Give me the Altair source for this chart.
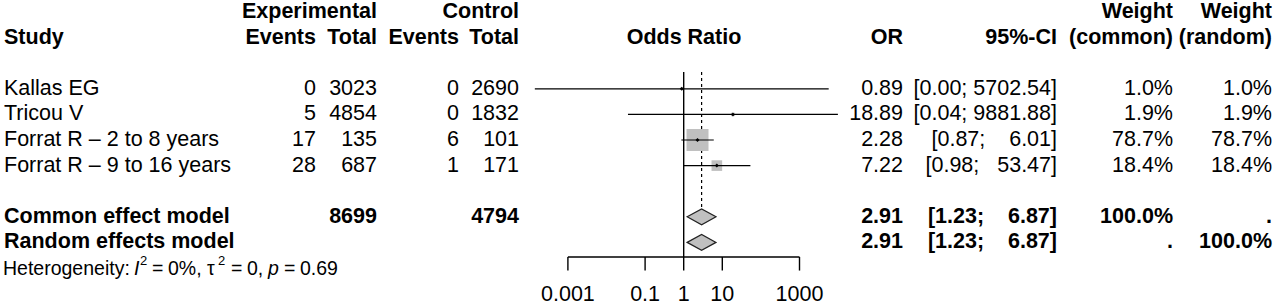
import altair as alt
import pandas as pd

# ---------------- data ----------------
studies = ["Kallas EG", "Tricou V", "Forrat R – 2 to 8 years", "Forrat R – 9 to 16 years"]
e_events = [0, 5, 17, 28]
e_total = [3023, 4854, 135, 687]
c_events = [0, 0, 6, 1]
c_total = [2690, 1832, 101, 171]
odds = [0.89, 18.89, 2.28, 7.22]
lower = [0.000139, 0.036, 0.87, 0.98]
upper = [5702.54, 9881.88, 6.01, 53.47]
lower_lbl = ["0.00", "0.04", "0.87", "0.98"]
upper_lbl = ["5702.54", "9881.88", "6.01", "53.47"]
w_common = [1.0, 1.9, 78.7, 18.4]
w_random = [1.0, 1.9, 78.7, 18.4]

models = ["Common effect model", "Random effects model"]
pooled_or = [2.91, 2.91]
pooled_lo = [1.23, 1.23]
pooled_hi = [6.87, 6.87]
pooled_lo_lbl = ["1.23", "1.23"]
pooled_hi_lbl = ["6.87", "6.87"]
pooled_wc = ["100.0%", "."]
pooled_wr = [".", "100.0%"]
tot_e = 8699
tot_c = 4794

tick_values = [0.001, 0.1, 1, 10, 1000]
tick_labels = ["0.001", "0.1", "1", "10", "1000"]

# ---------------- layout ----------------
W, H = 1280, 306
FONT = "Liberation Sans"
FS = 21.5
NB = "\u00a0"
study_rows = [3, 4, 5, 6]
model_rows = [8, 9]
HET_ROW = 10.02

# y: pixel = 12 + 25.6*row
yscale = alt.Scale(domain=[-12 / 25.6, (H - 12) / 25.6], reverse=True, nice=False, zero=False)
# x: pixel = 683.7 + 38.6*log10(v)
x0, dec = 683.7, 38.6
xscale = alt.Scale(type="log", domain=[10 ** (-x0 / dec), 10 ** ((W - x0) / dec)], nice=False, range=[0, W])


def fmt_ci(lo, hi):
    return "[" + lo + ";" + NB * (1 + 7 - len(hi)) + hi + "]"


cells = []


def add(col, row, text, bold=False):
    cells.append({"col": col, "row": row, "text": text, "bold": bold})


# headers
add("e_tot", 0, "Experimental", True)
add("c_tot", 0, "Control", True)
add("wc", 0, "Weight", True)
add("wr", 0, "Weight", True)
add("study", 1, "Study", True)
add("e_ev", 1, "Events", True)
add("e_tot", 1, "Total", True)
add("c_ev", 1, "Events", True)
add("c_tot", 1, "Total", True)
add("orh", 1, "Odds Ratio", True)
add("or", 1, "OR", True)
add("ci", 1, "95%-CI", True)
add("wc", 1, "(common)", True)
add("wr", 1, "(random)", True)

for i, r in enumerate(study_rows):
    add("study", r, studies[i])
    add("e_ev", r, str(e_events[i]))
    add("e_tot", r, str(e_total[i]))
    add("c_ev", r, str(c_events[i]))
    add("c_tot", r, str(c_total[i]))
    add("or", r, f"{odds[i]:.2f}")
    add("ci", r, fmt_ci(lower_lbl[i], upper_lbl[i]))
    add("wc", r, f"{w_common[i]:.1f}%")
    add("wr", r, f"{w_random[i]:.1f}%")

for i, r in enumerate(model_rows):
    add("study", r, models[i], True)
    if i == 0:
        add("e_tot", r, str(tot_e), True)
        add("c_tot", r, str(tot_c), True)
    add("or", r, f"{pooled_or[i]:.2f}", True)
    add("ci", r, fmt_ci(pooled_lo_lbl[i], pooled_hi_lbl[i]), True)
    add("wc", r, pooled_wc[i], True)
    add("wr", r, pooled_wr[i], True)

cells = pd.DataFrame(cells)

col_specs = {
    "study": (4, "left"),
    "e_ev": (316, "right"),
    "e_tot": (377, "right"),
    "c_ev": (459, "right"),
    "c_tot": (519, "right"),
    "orh": (684, "center"),
    "or": (903, "right"),
    "ci": (1057, "right"),
    "wc": (1173, "right"),
    "wr": (1272, "right"),
}

layers = []

# ---------------- forest graphics ----------------
ref = pd.DataFrame({"v": [1.0], "y0": [2.34], "y1": [9.57]})
layers.append(
    alt.Chart(ref).mark_rule(color="black", strokeWidth=1.4).encode(
        x=alt.X("v:Q", scale=xscale, axis=None),
        y=alt.Y("y0:Q", scale=yscale, axis=None),
        y2="y1:Q",
    )
)
dash = pd.DataFrame({"v": [pooled_or[0]], "y0": [2.34], "y1": [7.72]})
layers.append(
    alt.Chart(dash).mark_rule(color="black", strokeWidth=1.2, strokeDash=[3, 3]).encode(
        x=alt.X("v:Q", scale=xscale, axis=None),
        y=alt.Y("y0:Q", scale=yscale, axis=None),
        y2="y1:Q",
    )
)

sd = pd.DataFrame({"row": study_rows, "or": odds, "lo": lower, "hi": upper, "w": w_common})
layers.append(
    alt.Chart(sd).mark_square(color="#c0c0c0", opacity=1).encode(
        x=alt.X("or:Q", scale=xscale, axis=None),
        y=alt.Y("row:Q", scale=yscale, axis=None),
        size=alt.Size("w:Q", scale=alt.Scale(domain=[0, 78.7], range=[0, 484]), legend=None),
    )
)
layers.append(
    alt.Chart(sd).mark_rule(color="black", strokeWidth=1.2).encode(
        x=alt.X("lo:Q", scale=xscale, axis=None),
        x2="hi:Q",
        y=alt.Y("row:Q", scale=yscale, axis=None),
    )
)
layers.append(
    alt.Chart(sd).mark_point(shape="diamond", filled=True, color="black", size=16, opacity=1).encode(
        x=alt.X("or:Q", scale=xscale, axis=None),
        y=alt.Y("row:Q", scale=yscale, axis=None),
    )
)

# diamonds
dm = []
HALF = 0.31
for i, r in enumerate(model_rows):
    dm.append({"m": models[i], "x": pooled_lo[i], "yt": r, "yb": r})
    dm.append({"m": models[i], "x": pooled_or[i], "yt": r - HALF, "yb": r + HALF})
    dm.append({"m": models[i], "x": pooled_hi[i], "yt": r, "yb": r})
dm = pd.DataFrame(dm)
layers.append(
    alt.Chart(dm).mark_area(color="#c0c0c0", stroke="#222222", strokeWidth=1.2, opacity=1, orient="vertical").encode(
        x=alt.X("x:Q", scale=xscale, axis=None),
        y=alt.Y("yt:Q", scale=yscale, axis=None),
        y2="yb:Q",
        detail="m:N",
    )
)

# axis
axl = pd.DataFrame({"a": [tick_values[0]], "b": [tick_values[-1]], "y": [9.57]})
layers.append(
    alt.Chart(axl).mark_rule(color="black", strokeWidth=1.4).encode(
        x=alt.X("a:Q", scale=xscale, axis=None),
        x2="b:Q",
        y=alt.Y("y:Q", scale=yscale, axis=None),
    )
)
tk = pd.DataFrame({"v": tick_values, "lbl": tick_labels, "y0": 9.57, "y1": 10.1, "yl": 11.05})
layers.append(
    alt.Chart(tk).mark_rule(color="black", strokeWidth=1.4).encode(
        x=alt.X("v:Q", scale=xscale, axis=None),
        y=alt.Y("y0:Q", scale=yscale, axis=None),
        y2="y1:Q",
    )
)
layers.append(
    alt.Chart(tk).mark_text(font=FONT, fontSize=FS, baseline="middle", align="center", color="black").encode(
        x=alt.X("v:Q", scale=xscale, axis=None),
        y=alt.Y("yl:Q", scale=yscale, axis=None),
        text="lbl:N",
    )
)

# ---------------- text columns ----------------
for col, (xp, al) in col_specs.items():
    for bold in (False, True):
        sub = cells[(cells["col"] == col) & (cells["bold"] == bold)]
        if len(sub) == 0:
            continue
        layers.append(
            alt.Chart(sub).mark_text(
                font=FONT, fontSize=FS, fontWeight="bold" if bold else "normal",
                align=al, baseline="middle", color="black",
            ).encode(
                x=alt.value(xp),
                y=alt.Y("row:Q", scale=yscale, axis=None),
                text="text:N",
            )
        )

# heterogeneity line (segments: text, x, style, row offset, size)
HF, SF, SUP = 19.5, 13, -0.3
het_parts = [
    ("Heterogeneity:", 3, "normal", 0.0, HF),
    ("I", 134, "italic", 0.0, HF),
    ("2", 140, "normal", SUP, SF),
    ("=", 152, "normal", 0.0, HF),
    ("0%,", 168, "normal", 0.0, HF),
    ("τ", 207, "normal", 0.0, HF),
    ("2", 218, "normal", SUP, SF),
    ("=", 231, "normal", 0.0, HF),
    ("0,", 247, "normal", 0.0, HF),
    ("p", 268, "italic", 0.0, HF),
    ("=", 284, "normal", 0.0, HF),
    ("0.69", 300, "normal", 0.0, HF),
]
for txt, xp, style, dy, fs in het_parts:
    hd = pd.DataFrame({"row": [HET_ROW + dy], "text": [txt]})
    layers.append(
        alt.Chart(hd).mark_text(
            font=FONT, fontSize=fs, fontStyle=style, align="left", baseline="middle", color="black"
        ).encode(
            x=alt.value(xp),
            y=alt.Y("row:Q", scale=yscale, axis=None),
            text="text:N",
        )
    )

chart = (
    alt.layer(*layers)
    .properties(width=W, height=H, padding=0, autosize=alt.AutoSizeParams(type="none"), background="white")
    .configure_view(stroke=None)
)

chart.save("out.html", embed_options={"renderer": "svg", "actions": False})
